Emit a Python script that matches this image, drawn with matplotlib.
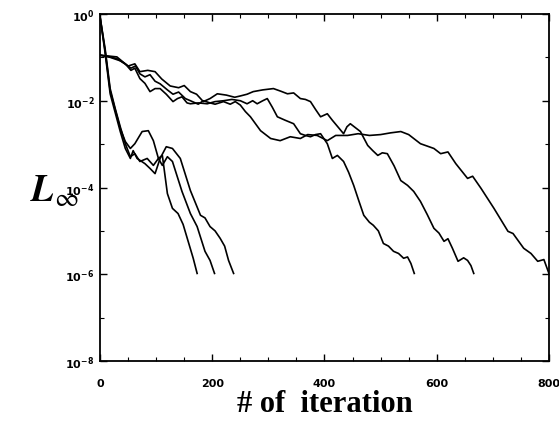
import numpy as np
import matplotlib.pyplot as plt
from matplotlib.ticker import LogLocator, MultipleLocator, LogFormatterSciNotation, NullFormatter

# Данные: номер итерации и log10(L_inf)
f1_it = [0, 9, 18, 27, 36, 45, 54, 62, 71, 84, 95, 104, 111, 120, 129, 139, 148, 157, 166, 173]
f1_lg = [-0.07, -0.80, -1.72, -2.18, -2.60, -2.99, -3.29, -3.22, -3.40, -3.33, -3.49, -3.33,
         -3.26, -4.14, -4.48, -4.60, -4.85, -5.24, -5.63, -5.98]

f2_it = [0, 9, 18, 36, 45, 54, 62, 75, 86, 95, 104, 111, 120, 129, 146, 161, 173, 187, 196, 204]
f2_lg = [-0.07, -0.85, -1.77, -2.64, -2.94, -3.10, -2.99, -2.71, -2.69, -2.92, -3.33, -3.49,
         -3.29, -3.40, -4.09, -4.60, -4.90, -5.47, -5.68, -5.98]

f3_it = [0, 9, 18, 36, 45, 54, 59, 66, 80, 89, 98, 107, 118, 129, 143, 161, 179, 187, 196,
         205, 214, 222, 229, 238]
f3_lg = [-0.07, -0.90, -1.84, -2.71, -3.10, -3.33, -3.15, -3.33, -3.45, -3.56, -3.68, -3.33,
         -3.06, -3.10, -3.33, -4.07, -4.64, -4.70, -4.90, -5.00, -5.17, -5.35, -5.68, -5.98]

s1_it = [0, 15, 30, 45, 55, 62, 71, 80, 89, 98, 107, 118, 130, 138, 146, 155, 161, 175, 191,
         205, 220, 235, 250, 262, 272, 280, 290, 298, 307, 316, 330, 345, 357, 366, 375, 384,
         393, 405, 414, 423, 434, 443, 452, 461, 470, 480, 487, 496, 505, 514, 523, 532, 541,
         548, 554, 560]
s1_lg = [-0.95, -0.97, -0.99, -1.15, -1.30, -1.25, -1.49, -1.60, -1.79, -1.72, -1.72, -1.85,
         -2.02, -1.95, -1.91, -2.05, -2.07, -2.05, -2.07, -2.02, -2.00, -1.97, -2.00, -2.07,
         -2.00, -2.07, -2.00, -1.95, -2.15, -2.37, -2.45, -2.53, -2.76, -2.80, -2.83, -2.78,
         -2.76, -2.99, -3.33, -3.26, -3.40, -3.65, -3.95, -4.30, -4.64, -4.80, -4.87, -5.00,
         -5.29, -5.35, -5.47, -5.52, -5.63, -5.60, -5.75, -5.98]

s2_it = [0, 18, 36, 50, 62, 71, 85, 98, 110, 125, 140, 150, 161, 172, 184, 196, 209, 225,
         240, 250, 262, 273, 290, 309, 322, 334, 345, 357, 366, 375, 384, 393, 405, 414, 425,
         434, 440, 446, 455, 464, 477, 486, 495, 503, 512, 524, 536, 548, 559, 571, 583, 595,
         604, 613, 620, 628, 638, 648, 655, 661, 666]
s2_lg = [-0.95, -1.00, -1.08, -1.20, -1.15, -1.33, -1.30, -1.33, -1.50, -1.66, -1.70, -1.65,
         -1.79, -1.85, -2.02, -1.95, -1.84, -1.87, -1.92, -1.89, -1.85, -1.79, -1.75, -1.72,
         -1.78, -1.84, -1.82, -1.95, -1.97, -2.02, -2.20, -2.37, -2.30, -2.45, -2.62, -2.76,
         -2.60, -2.53, -2.62, -2.71, -3.03, -3.15, -3.26, -3.20, -3.22, -3.50, -3.84, -3.95,
         -4.09, -4.32, -4.62, -4.94, -5.05, -5.24, -5.18, -5.40, -5.70, -5.62, -5.68, -5.80,
         -5.98]

s3_it = [0, 15, 30, 45, 55, 63, 71, 80, 89, 98, 107, 120, 130, 140, 152, 161, 175, 184, 196,
         205, 220, 232, 241, 250, 259, 268, 286, 304, 321, 339, 357, 370, 387, 405, 420, 441,
         460, 480, 500, 518, 536, 550, 571, 595, 607, 620, 634, 655, 664, 679, 702, 727, 736,
         755, 768, 780, 791, 800]
s3_lg = [-0.95, -0.98, -1.03, -1.15, -1.25, -1.20, -1.38, -1.45, -1.40, -1.55, -1.61, -1.75,
         -1.85, -1.80, -1.95, -2.00, -2.08, -2.00, -2.05, -2.08, -2.02, -2.08, -2.02, -2.10,
         -2.25, -2.37, -2.69, -2.87, -2.92, -2.83, -2.87, -2.78, -2.80, -2.92, -2.80, -2.80,
         -2.76, -2.80, -2.78, -2.74, -2.71, -2.78, -2.99, -3.10, -3.22, -3.18, -3.45, -3.79,
         -3.74, -4.02, -4.48, -5.01, -5.06, -5.40, -5.52, -5.70, -5.66, -5.98]

curves = [(f1_it, f1_lg), (f2_it, f2_lg), (f3_it, f3_lg),
          (s1_it, s1_lg), (s2_it, s2_lg), (s3_it, s3_lg)]


def main():
    plt.rcParams['mathtext.fontset'] = 'stix'
    fig = plt.figure(figsize=(5.59, 4.27), dpi=100)
    ax = fig.add_axes([0.179, 0.152, 0.803, 0.813])

    for it, lg in curves:
        ax.plot(it, 10.0 ** np.array(lg), color='black', lw=1.2)

    ax.set_yscale('log')
    ax.set_xlim(0, 800)
    ax.set_ylim(1e-8, 1)
    ax.xaxis.set_major_locator(MultipleLocator(200))
    ax.xaxis.set_minor_locator(MultipleLocator(50))
    ax.yaxis.set_major_locator(LogLocator(base=100.0))
    ax.yaxis.set_minor_locator(LogLocator(base=10.0, subs=[1.0], numticks=20))
    ax.yaxis.set_major_formatter(LogFormatterSciNotation(base=10.0))
    ax.yaxis.set_minor_formatter(NullFormatter())

    ax.tick_params(which='both', direction='in', top=True, right=True)
    ax.tick_params(which='major', length=5, width=1.0)
    ax.tick_params(which='minor', length=3, width=0.8)
    ax.tick_params(axis='x', pad=12)
    ax.tick_params(axis='y', pad=4)
    for lab in ax.get_xticklabels() + ax.get_yticklabels():
        lab.set_fontsize(8)
        lab.set_fontweight('bold')
    for sp in ax.spines.values():
        sp.set_linewidth(1.3)

    ax.set_xlabel('# of  iteration', family='Liberation Serif', fontweight='bold',
                  fontsize=22, labelpad=1)
    fig.text(0.098, 0.55, r'$\mathbfit{L}_{\infty}$', fontsize=27, ha='center', va='center')

    fig.savefig('out.png', dpi=100)


if __name__ == '__main__':
    main()
